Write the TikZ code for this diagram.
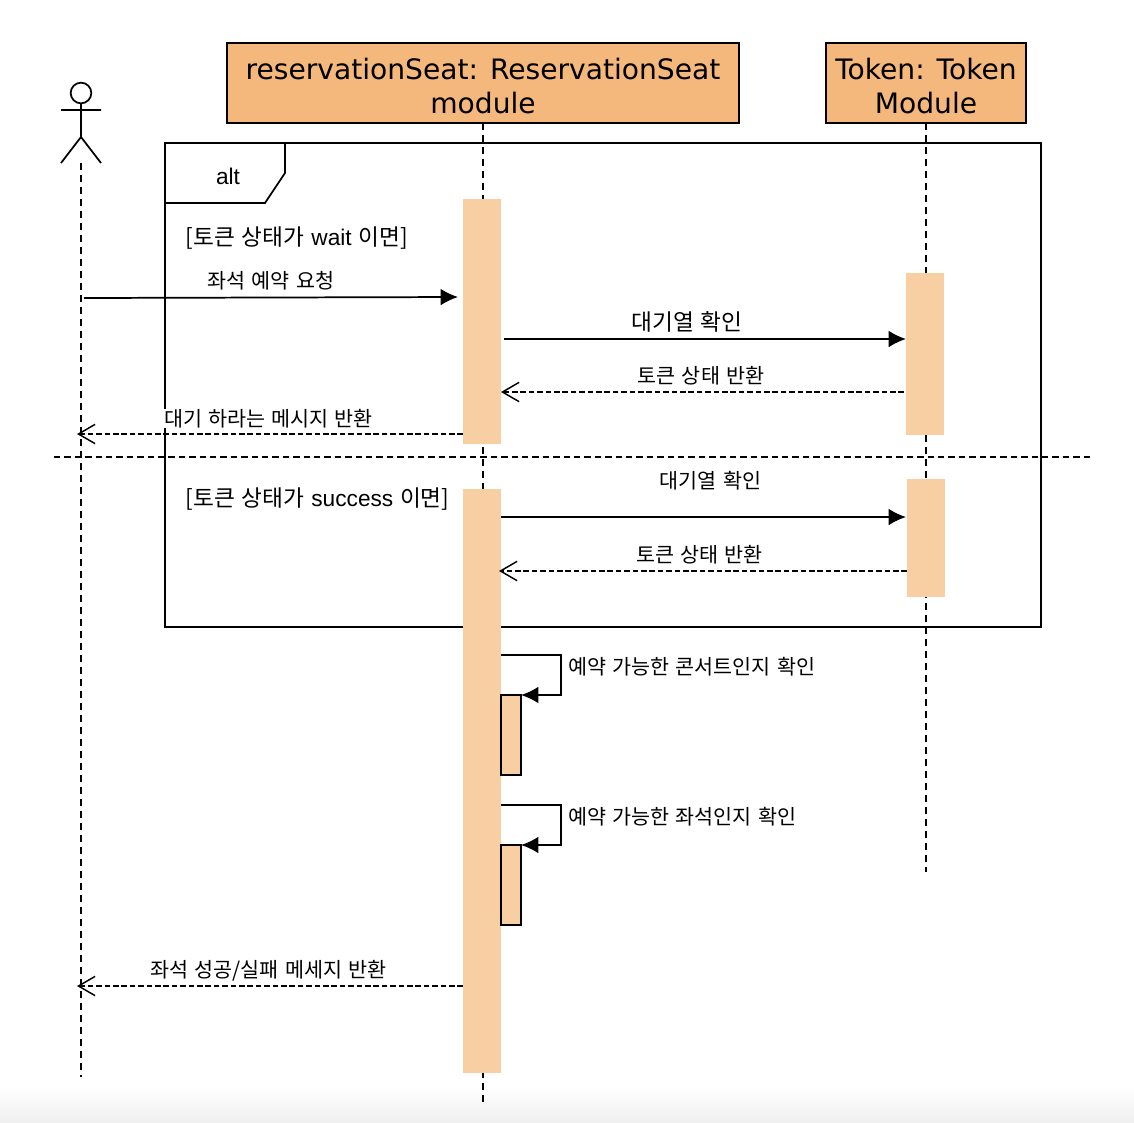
\documentclass[tikz,border=0pt]{standalone}
\usepackage{fontspec}
\setmainfont{Liberation Sans}
\newfontfamily\kr[WordSpace=1.35]{Noto Sans CJK KR}
\newfontfamily\hd{DejaVu Sans}
\usetikzlibrary{arrows.meta,shadings}
\definecolor{headfill}{HTML}{F5B87C}
\definecolor{barfill}{HTML}{F8CEA3}
\tikzset{
 x=0.75pt,y=-0.75pt,
 life/.style={draw=black,line width=1.2pt,dash pattern=on 5pt off 4pt},
 head/.style={draw=black,line width=1.3pt,fill=headfill,align=center,inner sep=0pt,font=\hd\fontsize{21.1}{25}\selectfont},
 bar/.style={fill=barfill,draw=none,inner sep=0pt,minimum width=28.5pt},
 selfbar/.style={fill=barfill,draw=black,line width=1.3pt,inner sep=0pt},
 msg/.style={line width=1.3pt,-{Latex[length=13pt,width=12.5pt,black]}},
 ret/.style={line width=1.05pt,dash pattern=on 4.2pt off 2.1pt,-{Straight Barb[length=12.5pt,width=14.5pt,line width=1.1pt]}},
 lab/.style={inner sep=0pt,font=\kr\fontsize{15.5}{18}\selectfont},
 frm/.style={draw=black,line width=1.3pt},
}
\begin{document}
\begin{tikzpicture}
\useasboundingbox (0,0) rectangle (1134,1122);
\fill[white] (0,0) rectangle (1134,1122);
\shade[top color=white,bottom color=black!6] (0,1085) rectangle (1134,1122);
% lifelines
\coordinate (a1) at (81,163); \coordinate (a2) at (81,1077);
\coordinate (b1) at (483,123); \coordinate (b2) at (483,1102);
\coordinate (c1) at (926,123); \coordinate (c2) at (926,872);
\draw[life] (a1)--(a2);
\draw[life] (b1)--(b2);
\draw[life] (c1)--(c2);
% frame
\node[frm,minimum width=657pt,minimum height=363pt,inner sep=0pt] (frame) at (603,385) {};
\coordinate (f1) at (165,203); \coordinate (f2) at (265,203); \coordinate (f3) at (285,173); \coordinate (f4) at (285,143);
\draw[frm] (f1)--(f2)--(f3)--(f4);
\node[inner sep=0pt,font=\fontsize{17}{20}\selectfont] (alt) at (228,176) {alt};
% separator
\coordinate (s1) at (54,457); \coordinate (s2) at (1090,457);
\draw[line width=1.1pt,dash pattern=on 4.8pt off 3pt] (s1)--(s2);
% heads
\node[head,minimum width=384pt,minimum height=60pt] (hb) at (483,83) {\rule{0pt}{20.5pt}reservationSeat: ReservationSeat\\module};
\node[head,minimum width=150.5pt,minimum height=60pt] (hc) at (926,83) {\rule{0pt}{20.5pt}Token: Token\\Module};
% actor
\node[draw=black,line width=1.3pt,circle,minimum size=15.5pt,inner sep=0pt,fill=white] (ah) at (81,93) {};
\coordinate (an) at (81,137); \coordinate (al) at (61,163); \coordinate (ar) at (101,163);
\coordinate (aal) at (61,110); \coordinate (aar) at (101,110);
\draw[line width=1.3pt] (ah.south)--(an) (aal)--(aar) (al)--(an)--(ar);
% bars
\node[bar,minimum height=183.75pt] (b1a) at (482,321.5) {};
\node[bar,minimum height=438pt] (b2a) at (482,781) {};
\node[bar,minimum height=121.5pt] (c1a) at (925,354) {};
\node[bar,minimum height=88.5pt] (c2a) at (926,538) {};
\node[selfbar,minimum width=15pt,minimum height=60pt] (s1a) at (511,735) {};
\node[selfbar,minimum width=15pt,minimum height=60pt] (s2a) at (511,885) {};
% messages
\coordinate (m0) at (84,298); \coordinate (m1) at (458,297);
\draw[msg] (m0)--(m1);
\coordinate (m2) at (504,339); \coordinate (m3) at (906,339);
\draw[msg] (m2)--(m3);
\coordinate (m4) at (904,392); \coordinate (m5) at (501,392);
\draw[ret] (m4)--(m5);
\node[lab,fill=white,inner ysep=0pt] (l4) at (268.5,418.5) {대기 하라는 메시지 반환};
\coordinate (m6) at (463,434); \coordinate (m7) at (77,434);
\draw[ret] (m6)--(m7);
\coordinate (m8) at (501,517); \coordinate (m9) at (906,517);
\draw[msg] (m8)--(m9);
\coordinate (m10) at (907,571); \coordinate (m11) at (499,571);
\draw[ret] (m10)--(m11);
\coordinate (m12) at (463,986); \coordinate (m13) at (77,986);
\draw[ret] (m12)--(m13);
% self messages
\coordinate (p1) at (501,655); \coordinate (p2) at (561,655); \coordinate (p3) at (561,695); \coordinate (p4) at (521,695);
\draw[msg] (p1)--(p2)--(p3)--(p4);
\coordinate (q1) at (501,805); \coordinate (q2) at (561,805); \coordinate (q3) at (561,845); \coordinate (q4) at (521,845);
\draw[msg] (q1)--(q2)--(q3)--(q4);
% labels
\node[lab,anchor=west] (g1) at (185.5,238) {\fontsize{17}{20}\selectfont [토큰 상태가 {\rmfamily wait} 이면]};
\node[lab,anchor=west] (g2) at (185.5,499) {\fontsize{17}{20}\selectfont [토큰 상태가 {\rmfamily success} 이면]};
\node[lab] (l1) at (271,280.5) {좌석 예약 요청};
\node[lab,font=\kr\fontsize{17}{20}\selectfont] (l2) at (687,321.5) {대기열 확인};
\node[lab] (l3) at (701,375.5) {토큰 상태 반환};
\node[lab] (l5) at (710.5,480.5) {대기열 확인};
\node[lab] (l6) at (699.5,554.5) {토큰 상태 반환};
\node[lab,anchor=west] (l7) at (568,666.5) {예약 가능한 콘서트인지 확인};
\node[lab,anchor=west] (l8) at (568,816.5) {예약 가능한 좌석인지 확인};
\node[lab] (l9) at (268.5,970.5) {좌석 성공/실패 메세지 반환};
\end{tikzpicture}
\end{document}
